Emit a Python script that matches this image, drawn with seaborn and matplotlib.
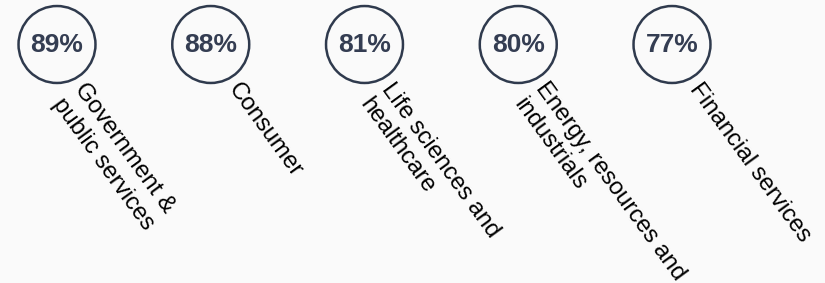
import matplotlib
matplotlib.use("Agg")
import matplotlib.pyplot as plt
import seaborn as sns
import pandas as pd

categories = [
    "Government &\npublic services",
    "Consumer",
    "Life sciences and\nhealthcare",
    "Energy, resources and\nindustrials",
    "Financial services",
]
values = [89, 88, 81, 80, 77]

df = pd.DataFrame({"pos": range(len(categories)), "y": [0] * len(categories),
                   "category": categories, "value": values})

sns.set_theme(style="white")
plt.rcParams["font.family"] = ["Liberation Sans", "DejaVu Sans"]

BG = "#fafafa"
INK = "#2f3a4d"

fig = plt.figure(figsize=(8.25, 2.83), dpi=100, facecolor=BG)
ax = fig.add_axes([0, 0, 1, 1])
ax.set_facecolor(BG)

sns.scatterplot(data=df, x="pos", y="y", ax=ax, s=3070, marker="o",
                facecolor="none", edgecolor=INK, linewidth=1.8, legend=False)

for _, r in df.iterrows():
    ax.text(r["pos"], r["y"], f"{r['value']}%", ha="center", va="center",
            fontsize=19, fontweight="bold", color="#343d52")
    ax.annotate(r["category"], xy=(r["pos"], r["y"]), xytext=(22, -24.5),
                textcoords="offset points", ha="left", va="top",
                rotation=-54, rotation_mode="anchor", fontsize=17.3,
                color="black", linespacing=1.3)

spacing = 153.75
ax.set_xlim(-57 / spacing, (825 - 57) / spacing)
ax.set_ylim(-(283 - 44.5), 44.5)
ax.axis("off")

fig.savefig("out.png", dpi=100, facecolor=BG)
